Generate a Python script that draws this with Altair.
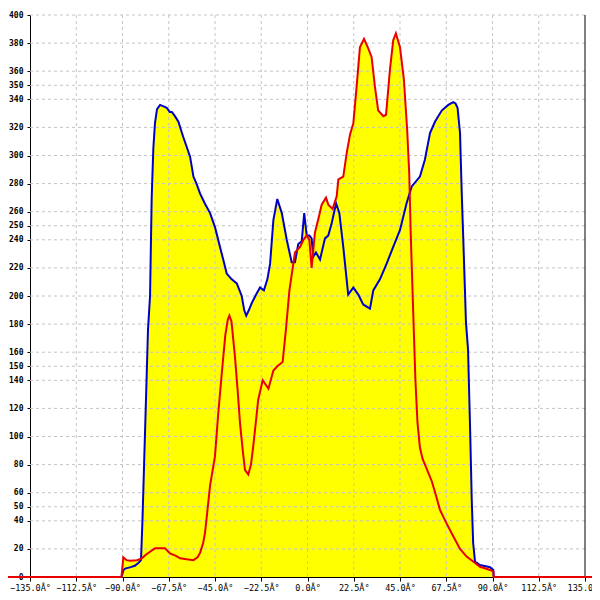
import altair as alt
import pandas as pd

# ---- data ----
blue_angle = [-90.5, -89.5, -88.7, -86, -84, -82.3, -81, -80.3, -79.5, -78.5, -77.6, -76.6, -75.8, -75,
              -74.2, -73.2, -71.7, -70, -68.5, -67, -66, -64.5, -62.8, -61.5, -60.4, -58.5, -57.1, -55.5,
              -54, -52.3, -50, -47.4, -45, -42.6, -41, -39.3, -37, -34.4, -32, -30.8, -29.8, -28.5, -27.1,
              -25, -23.1, -21.2, -19.5, -18.2, -16.6, -14.7, -12.5, -10.1, -7.7, -6.1, -4.5, -2.8, -1.6,
              -0.4, 0.9, 2, 2.8, 4.1, 6.1, 8.5, 10.1, 11.8, 13.9, 15.5, 17.4, 19.8, 22.3, 24.7, 27.1, 30.4,
              32, 35.3, 38.5, 41.7, 45, 48.2, 50.7, 54.7, 57.1, 59.6, 62, 65.3, 68.5, 70.9, 72, 73, 74.2,
              75, 75.8, 76.6, 77.1, 78.1, 79.2, 79.9, 80.6, 81.5, 83.9, 88.8, 90.4, 90.6]
blue_value = [0, 5, 6, 7, 8, 10, 12, 40, 80, 130, 176, 200, 270, 305,
              323, 333, 336, 335, 334, 331, 331, 328, 324, 318, 313, 305, 299, 285,
              280, 273, 266, 259, 249, 235, 226, 216, 212, 209, 200, 190, 186, 190, 195,
              201, 206, 204, 212, 223, 254, 269, 259, 240, 224, 224, 237, 239, 259,
              243, 243, 241, 228, 231, 226, 241, 243, 252, 266, 259, 235, 201, 206, 201, 194, 191,
              204, 212, 223, 235, 247, 266, 278, 285, 297, 316, 324, 332, 336, 338, 337, 334, 316,
              275, 240, 204, 181, 162, 100, 55, 24, 11, 8.5, 7, 5, 0]

red_angle = [-150, -90.5, -89.6, -88, -86.3, -83, -80.6, -78.5, -76.6, -74.2, -69.3, -66.9, -64, -62,
             -58.8, -55.5, -53.5, -52.3, -50.8, -49.9, -49, -47.4, -45, -43.5, -41.7, -40, -38.8, -38,
             -37, -35.3, -34, -32.8, -31.5, -30.4, -28.8, -27.5, -26.4, -25, -24, -21.8, -19, -16.6,
             -14.7, -12.1, -10.5, -8.8, -6.1, -3.6, -2, -0.4, 0.9, 2, 3.6, 5.3, 6.9, 9, 10.1, 12.2,
             14.2, 15, 17.4, 19.1, 20.7, 22.3, 23.9, 25.5, 27.5, 29.6, 31.2, 32.8, 34.4, 36.9, 38.2,
             40.1, 41.7, 43, 45, 46.9, 48.5, 49.5, 50.2, 51.5, 52.5, 53.5, 54.7, 56, 58, 60.5, 62.5,
             64.4, 67.7, 70.9, 74.2, 77.4, 80.6, 83.9, 88.8, 90.4, 90.6, 150]
red_value = [0, 0, 14, 12, 11.6, 12, 13.3, 16, 18, 20.4, 20.4, 16.8, 15, 13.3,
             12.6, 12, 14, 17, 24, 31, 43, 65, 86, 115, 145, 172, 183, 186,
             182, 157, 133, 109, 90, 76, 73, 80, 93, 112, 126, 140, 134, 147,
             150, 153, 176, 204, 231, 235, 240, 243, 240, 220, 245, 255, 265, 270, 265, 262,
             271, 283, 285, 302, 315, 323, 349, 377, 383, 376, 370, 349, 332, 328, 329,
             361, 382, 387, 377, 354, 318, 287, 245, 185, 140, 110, 92, 84, 77, 68, 58,
             48, 38, 29, 20, 14.5, 11, 7.3, 5, 3.8, 0, 0]

x_ticks = [-135, -112.5, -90, -67.5, -45, -22.5, 0, 22.5, 45, 67.5, 90, 112.5, 135]
y_ticks = [0, 20, 40, 50, 60, 80, 100, 120, 140, 150, 160, 180, 200, 220, 240, 250, 260,
           280, 300, 320, 340, 350, 360, 380, 400]

blue_df = pd.DataFrame({"angle": blue_angle, "value": blue_value})
red_df = pd.DataFrame({"angle": red_angle, "value": red_value})
vgrid_df = pd.DataFrame({"angle": x_ticks[1:-1]})
hgrid_df = pd.DataFrame({"value": y_ticks[1:]})
border_df = pd.DataFrame({"angle": [x_ticks[-1]]})

FONT = "DejaVu Sans Mono"
xs = alt.Scale(domain=[x_ticks[0], x_ticks[-1]], nice=False, zero=False)
ys = alt.Scale(domain=[y_ticks[0], y_ticks[-1]], nice=False)

xaxis = alt.Axis(values=x_ticks, labelExpr="format(datum.value, '.1f') + 'Â°'", grid=False,
                 domainColor="black", tickColor="black", tickSize=4, labelFont=FONT,
                 labelFontSize=8.5, labelColor="black", labelPadding=2, labelFlush=False)
yaxis = alt.Axis(values=y_ticks, grid=False, domainColor="black", tickColor="black", tickSize=3,
                 labelFont=FONT, labelFontSize=8, labelFontWeight="bold", labelColor="black",
                 labelPadding=4)

X = alt.X("angle:Q", scale=xs, axis=xaxis, title=None)
Y = alt.Y("value:Q", scale=ys, axis=yaxis, title=None)

area_blue = alt.Chart(blue_df).mark_area(color="#ffff00", opacity=1).encode(x=X, y=Y)
area_red = alt.Chart(red_df).mark_area(color="#ffff00", opacity=1).encode(x=X, y=Y)
vgrid = alt.Chart(vgrid_df).mark_rule(color="#c4c4c4", strokeDash=[3, 3], strokeWidth=1).encode(x=X)
hgrid = alt.Chart(hgrid_df).mark_rule(color="#c4c4c4", strokeDash=[3, 3], strokeWidth=1).encode(y=Y)
border = alt.Chart(border_df).mark_rule(color="black", strokeWidth=1).encode(x=X)
line_blue = alt.Chart(blue_df).mark_line(color="#0000c8", strokeWidth=2).encode(x=X, y=Y)
line_red = alt.Chart(red_df).mark_line(color="#e80000", strokeWidth=2).encode(x=X, y=Y)

chart = alt.layer(area_blue, area_red, vgrid, hgrid, border, line_blue, line_red).properties(
    width=555, height=562,
    autosize=alt.AutoSizeParams(type="none"),
    padding={"left": 22, "top": 7, "right": 7, "bottom": 15},
).configure_view(stroke=None)

chart.save("out.html", embed_options={"renderer": "svg", "actions": False})
